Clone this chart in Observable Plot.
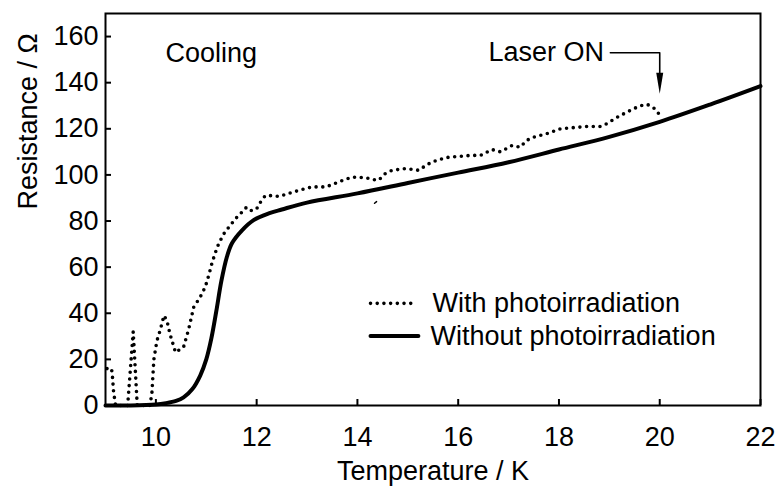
<!DOCTYPE html>
<html>
<head>
<meta charset="utf-8">
<script src="https://cdn.jsdelivr.net/npm/d3@7"></script>
<script src="https://cdn.jsdelivr.net/npm/@observablehq/plot@0.6"></script>
<style>
  html, body { margin: 0; padding: 0; background: #fff; overflow: hidden; }
  svg { display: block; }
</style>
</head>
<body>
<div id="chart"></div>
<script>
// Temperature (K) and resistance (Ω) — with photoirradiation (dotted)
const tempWith = [9.03, 9.12, 9.14, 9.16, 9.2, 9.3, 9.44, 9.55, 9.63, 9.75, 9.88, 9.92, 9.96, 10.02, 10.09, 10.16, 10.22, 10.28, 10.39, 10.55, 10.65, 10.75, 10.88, 10.98, 11.05, 11.12, 11.22, 11.28, 11.35, 11.45, 11.58, 11.68, 11.8, 11.9, 12.0, 12.07, 12.17, 12.31, 12.44, 12.57, 12.84, 13.1, 13.37, 13.5, 13.63, 13.89, 14.16, 14.3, 14.42, 14.55, 14.69, 14.95, 15.08, 15.22, 15.35, 15.48, 15.75, 16.01, 16.27, 16.44, 16.67, 16.84, 17.07, 17.23, 17.36, 17.5, 17.76, 18.03, 18.29, 18.56, 18.82, 18.95, 19.08, 19.22, 19.35, 19.48, 19.62, 19.75, 19.88, 20.01];
const resWith  = [16, 16, 12, 6, 0, 0, 0, 32, 0, 0, 0, 5, 20, 28, 33, 39, 36.8, 31, 23, 25.4, 33, 42.6, 47, 51.4, 56.5, 62.3, 68.8, 71.6, 74.5, 77.4, 81, 83.2, 86, 84.5, 85.3, 88, 91, 91, 90.7, 91.5, 93.3, 94.8, 94.8, 95.8, 97, 99, 98.8, 98, 97.7, 100.5, 102, 102.7, 102.4, 102, 104, 105.6, 107.5, 108, 108.5, 108.4, 111, 110, 112.8, 112, 115, 116.4, 117.9, 120, 120.5, 121, 121, 122.2, 124, 125.8, 127.2, 128.7, 130, 130.6, 129.1, 125.8];

// Without photoirradiation (solid)
const tempWithout = [9, 9.5, 10, 10.2, 10.4, 10.55, 10.72, 10.88, 11.0, 11.1, 11.2, 11.3, 11.41, 11.51, 11.71, 11.94, 12.24, 12.5, 13, 14, 15, 16, 17, 18, 19, 20, 21, 22];
const resWithout  = [0, 0, 0.4, 1, 2, 3.5, 7, 13, 20, 29, 41, 54, 64.5, 70.4, 76, 80.4, 83.3, 85, 88, 92, 96.5, 101, 105.5, 111, 116.5, 123, 130.5, 138.5];

// small stray stroke in the original figure
const tempStray = [14.34, 14.38];
const resStray  = [87.7, 88.4];

const xTicks = [10, 12, 14, 16, 18, 20, 22];
const yTicks = [0, 20, 40, 60, 80, 100, 120, 140, 160];

const withData = tempWith.map((T, i) => ({T, R: resWith[i]}));
const withoutData = tempWithout.map((T, i) => ({T, R: resWithout[i]}));
const strayData = tempStray.map((T, i) => ({T, R: resStray[i]}));

const FS = 27;
const arrowHead = {
  draw(context) {
    context.moveTo(0, 0);
    context.lineTo(-3.5, -21);
    context.lineTo(3.5, -21);
    context.closePath();
  }
};

const chart = Plot.plot({
  width: 780,
  height: 488,
  marginLeft: 105,
  marginRight: 20,
  marginTop: 13,
  marginBottom: 83,
  style: {fontFamily: "'Liberation Sans', Arial, sans-serif", color: "black", background: "white"},
  x: {domain: [9, 22]},
  y: {domain: [0, 170]},
  marks: [
    // inward ticks
    Plot.axisX(xTicks, {tickSize: 6, dy: -6, fill: "none", strokeWidth: 2, label: null}),
    Plot.axisY(yTicks, {tickSize: 6, dx: 6, fill: "none", strokeWidth: 2, label: null}),
    // tick labels
    Plot.axisX(xTicks, {tickSize: 0, tickPadding: 21, fontSize: FS, label: null}),
    Plot.axisY(yTicks, {tickSize: 0, tickPadding: 7, fontSize: FS, label: null}),
    Plot.frame({stroke: "black", strokeWidth: 2}),
    // axis titles
    Plot.text(["Temperature / K"], {frameAnchor: "bottom", dy: 66, fontSize: FS, lineAnchor: "middle"}),
    Plot.text(["Resistance / Ω"], {frameAnchor: "left", dx: -77, rotate: -90, fontSize: FS, lineAnchor: "middle"}),
    // data
    Plot.line(withData, {x: "T", y: "R", stroke: "black", strokeWidth: 3.6, strokeDasharray: "0 6.7", strokeLinecap: "round", strokeLinejoin: "round"}),
    Plot.line(withoutData, {x: "T", y: "R", stroke: "black", strokeWidth: 4, curve: "catmull-rom"}),
    Plot.line(strayData, {x: "T", y: "R", stroke: "black", strokeWidth: 1.5}),
    // annotations
    Plot.text(["Cooling"], {x: 10.19, y: 152.5, textAnchor: "start", lineAnchor: "middle", fontSize: FS}),
    Plot.text(["Laser ON"], {x: 16.6, y: 153.1, textAnchor: "start", lineAnchor: "middle", fontSize: FS}),
    Plot.line([[19.02, 153], [20, 153], [20, 143]], {stroke: "black", strokeWidth: 1.6}),
    Plot.dot([[20, 135.2]], {symbol: arrowHead, fill: "black", stroke: "none"}),
    // legend
    Plot.line([[14.26, 44.3], [15.1, 44.3]], {stroke: "black", strokeWidth: 3.6, strokeDasharray: "0 6.7", strokeLinecap: "round"}),
    Plot.line([[14.26, 30.1], [15.21, 30.1]], {stroke: "black", strokeWidth: 4}),
    Plot.text(["With photoirradiation"], {x: 15.49, y: 44.3, textAnchor: "start", lineAnchor: "middle", fontSize: FS}),
    Plot.text(["Without photoirradiation"], {x: 15.45, y: 30.1, textAnchor: "start", lineAnchor: "middle", fontSize: FS})
  ]
});
document.getElementById("chart").appendChild(chart);
</script>
</body>
</html>
